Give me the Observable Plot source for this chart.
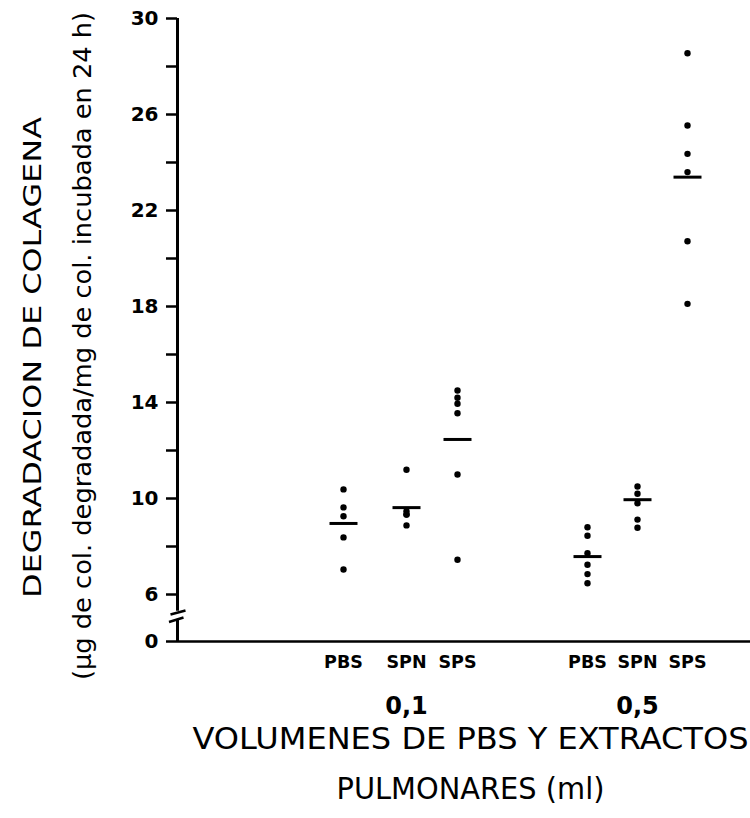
<!DOCTYPE html>
<html>
<head>
<meta charset="utf-8">
<script src="https://cdn.jsdelivr.net/npm/d3@7"></script>
<script src="https://cdn.jsdelivr.net/npm/@observablehq/plot@0.6"></script>
<style>
  html, body { margin: 0; padding: 0; background: #fff; }
  #chart { width: 750px; height: 818px; }
</style>
</head>
<body>
<div id="chart"></div>
<script>
// ---- data ----
const categories = ["PBS", "SPN", "SPS", "PBS", "SPN", "SPS"];
const volumeLabels = ["0,1", "0,5"];
const pbs01 = [10.38, 9.63, 9.26, 8.38, 7.04];
const spn01 = [11.2, 9.47, 9.33, 9.33, 8.88];
const sps01 = [14.5, 14.2, 13.95, 13.55, 11.0, 7.45];
const pbs05 = [8.8, 8.45, 7.72, 7.24, 6.85, 6.47];
const spn05 = [10.5, 10.2, 9.8, 9.12, 8.78];
const sps05 = [28.55, 25.54, 24.36, 23.6, 20.72, 18.11];
const means = [8.96, 9.62, 12.46, 7.58, 9.95, 23.39];
const yTickLabels = [0, 6, 10, 14, 18, 22, 26, 30];
const yMinorTicks = [8, 12, 16, 20, 24, 28];
const yTitle = "DEGRADACION DE COLAGENA";
const ySubtitle = "(µg de col. degradada/mg de col. incubada en 24 h)";
const xTitle1 = "VOLUMENES DE PBS Y EXTRACTOS";
const xTitle2 = "PULMONARES (ml)";

// ---- tables built from the arrays ----
const groupValues = [pbs01, spn01, sps01, pbs05, spn05, sps05];
const points = groupValues.flatMap((vals, i) => vals.map(v => ({i, value: v})));
const meanRows = means.map((m, i) => ({i, value: m}));
const catRows = categories.map((c, i) => ({i, label: c}));
const volRows = volumeLabels.map((v, k) => ({i: k * 3 + 1, label: v}));

// horizontal bar symbol for the means
const hbar = {
  draw(ctx, size) {
    const r = Math.sqrt(size / Math.PI);
    ctx.moveTo(-r * 1.75, 0);
    ctx.lineTo(r * 1.75, 0);
  }
};
// axis break symbol (two slanted strokes)
const breakMark = {
  draw(ctx, size) {
    const k = Math.sqrt(size / Math.PI) / 8;
    ctx.moveTo(-7 * k, -1.5 * k); ctx.lineTo(8 * k, -5.5 * k);
    ctx.moveTo(-8.5 * k, 6 * k); ctx.lineTo(6 * k, 1.5 * k);
  }
};

const font = "DejaVu Sans, Verdana, sans-serif";

const plot = Plot.plot({
  width: 750,
  height: 818,
  marginLeft: 177,
  marginRight: 0,
  marginTop: 10,
  marginBottom: 177,
  style: {background: "#fff", color: "#000", fontFamily: font},
  x: {type: "linear", domain: [-1, 0, 1, 2, 3, 4, 5, 6], range: [177, 343, 406, 457, 587, 637, 687, 750], axis: null},
  y: {type: "linear", domain: [0, 6, 30], range: [641, 594, 18], axis: null},
  marks: [
    // x axis line
    Plot.ruleY([0], {stroke: "#000", strokeWidth: 2.5}),
    // y axis line with a break between 0 and 6
    Plot.ruleX([-1], {y1: 3.85, y2: 30, stroke: "#000", strokeWidth: 3}),
    Plot.ruleX([-1], {y1: 0, y2: 2.7, stroke: "#000", strokeWidth: 3}),
    Plot.dot([3.25], {x: -1, y: d => d, symbol: breakMark, r: 8, stroke: "#000", strokeWidth: 2.5, fill: "none"}),
    // y ticks
    Plot.axisY(yMinorTicks, {anchor: "left", tickSize: 11, tickFormat: () => "", strokeWidth: 2.5, label: null}),
    Plot.axisY(yTickLabels, {anchor: "left", tickSize: 11, tickPadding: 8, fontSize: 20, fontWeight: "bold", strokeWidth: 2.5, label: null}),
    // data
    Plot.dot(points, {x: "i", y: "value", r: 3.2, fill: "#000", stroke: "none"}),
    Plot.dot(meanRows, {x: "i", y: "value", symbol: hbar, r: 8, stroke: "#000", strokeWidth: 3, fill: "none"}),
    // category labels
    Plot.text(catRows, {x: "i", y: 0, text: "label", dy: 21, fontSize: 17.5, fontWeight: "bold"}),
    Plot.text(volRows, {x: "i", y: 0, text: "label", dy: 65, fontSize: 24, fontWeight: "bold"}),
    // axis titles
    Plot.text([xTitle1], {text: d => d, frameAnchor: "bottom", dx: 6.5, dy: 107, fontSize: 30}),
    Plot.text([xTitle2], {text: d => d, frameAnchor: "bottom", dx: 6.5, dy: 157, fontSize: 30}),
    Plot.text([yTitle], {text: d => d, frameAnchor: "left", rotate: -90, textAnchor: "start", dx: -145, dy: 272, fontSize: 25}),
    Plot.text([ySubtitle], {text: d => d, frameAnchor: "left", rotate: -90, textAnchor: "start", dx: -95, dy: 354, fontSize: 25})
  ]
});

// stretch the long titles to the reference lengths
const lengths = {};
lengths[xTitle1] = 556;
lengths[xTitle2] = 268;
lengths[yTitle] = 481;
lengths[ySubtitle] = 668;
plot.querySelectorAll("text").forEach(t => {
  const len = lengths[t.textContent];
  if (len) {
    t.setAttribute("textLength", len);
    t.setAttribute("lengthAdjust", "spacingAndGlyphs");
  }
});

document.getElementById("chart").appendChild(plot);
</script>
</body>
</html>
